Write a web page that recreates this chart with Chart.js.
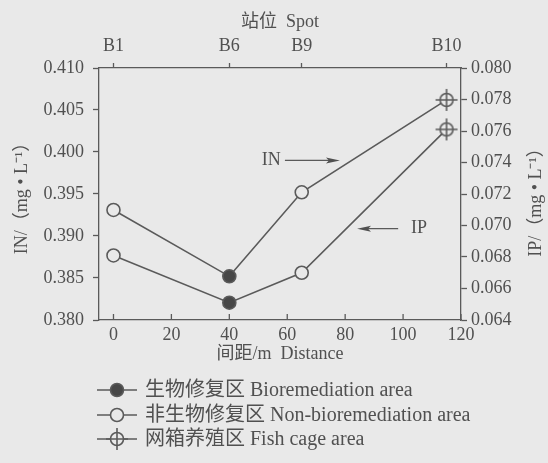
<!DOCTYPE html>
<html>
<head>
<meta charset="utf-8">
<script src="https://cdn.jsdelivr.net/npm/chart.js@4.4.1/dist/chart.umd.min.js"></script>
<style>
  body { margin: 0; background: #e9e9e9; }
  #wrap { width: 548px; height: 463px; }
</style>
</head>
<body>
<div id="wrap"><canvas id="chart" width="548" height="463"></canvas></div>
<script>
// datos
const distancias = [0, 40, 65, 115];
const estaciones = ["B1", "B6", "B9", "B10"];
const valoresIN = [0.3931, 0.3852, 0.3952, 0.4062];
const valoresIP = [0.0681, 0.0651, 0.0670, 0.0761];
const zonaPunto = ["non", "bio", "non", "cage"];

const ticksDist = [0, 20, 40, 60, 80, 100, 120];
const ticksIN = [0.380, 0.385, 0.390, 0.395, 0.400, 0.405, 0.410];
const ticksIP = [0.064, 0.066, 0.068, 0.070, 0.072, 0.074, 0.076, 0.078, 0.080];

const leyenda = [
    { zona: "bio", texto: "生物修复区 Bioremediation area" },
    { zona: "non", texto: "非生物修复区 Non-bioremediation area" },
    { zona: "cage", texto: "网箱养殖区 Fish cage area" }
];

const FONDO = "#e9e9e9";
const TINTA = "#505050";
const LINEA = "#5a5a5a";
const FUENTE = "'Liberation Serif', 'Noto Sans CJK SC', serif";

// marcador con cruz (zona de jaulas)
function marcadorJaula() {
    const c = document.createElement("canvas");
    c.width = 26; c.height = 26;
    const g = c.getContext("2d");
    g.strokeStyle = LINEA;
    g.lineWidth = 1.6;
    g.fillStyle = FONDO;
    g.beginPath(); g.arc(13, 13, 6.5, 0, Math.PI * 2); g.fill(); g.stroke();
    g.beginPath();
    g.moveTo(13, 2); g.lineTo(13, 24);
    g.moveTo(2, 13); g.lineTo(24, 13);
    g.stroke();
    return c;
}
const imgJaula = marcadorJaula();

function estilo(z) { return z === "cage" ? imgJaula : "circle"; }
function relleno(z) { return z === "bio" ? "#474747" : FONDO; }

function serie(label, valores, eje) {
    return {
        label: label,
        data: distancias.map((d, i) => ({ x: d, y: valores[i] })),
        yAxisID: eje,
        borderColor: LINEA,
        borderWidth: 1.6,
        pointStyle: zonaPunto.map(estilo),
        pointBackgroundColor: zonaPunto.map(relleno),
        pointBorderColor: LINEA,
        pointBorderWidth: 1.6,
        pointRadius: 6.5,
        tension: 0
    };
}

function fijarTicks(lista) {
    return function(scale) { scale.ticks = lista.map(v => ({ value: v })); };
}

// ticks hacia dentro en el eje inferior, flechas, titulo derecho y leyenda
const extras = {
    id: "extras",
    afterDraw(chart) {
        const ctx = chart.ctx;
        const x = chart.scales.x, y = chart.scales.y, y2 = chart.scales.y2;
        const area = chart.chartArea;
        ctx.save();
        ctx.strokeStyle = LINEA;
        ctx.fillStyle = TINTA;
        ctx.lineWidth = 1.3;
        ticksDist.forEach(v => {
            const px = x.getPixelForValue(v);
            ctx.beginPath(); ctx.moveTo(px, area.bottom); ctx.lineTo(px, area.bottom - 6); ctx.stroke();
        });

        ctx.font = "18px " + FUENTE;
        ctx.textBaseline = "middle";
        ctx.textAlign = "center";

        // IN ->
        let py = y.getPixelForValue(0.3990);
        ctx.fillText("IN", x.getPixelForValue(54.5), py);
        flecha(ctx, x.getPixelForValue(59.2), x.getPixelForValue(78.2), py);
        // <- IP
        py = y2.getPixelForValue(0.0698);
        ctx.fillText("IP", x.getPixelForValue(105.5), py);
        flecha(ctx, x.getPixelForValue(98.3), x.getPixelForValue(84.1), py);

        // titulo eje derecho (leido de abajo hacia arriba)
        ctx.save();
        ctx.translate(536, (area.top + area.bottom) / 2 + 4);
        ctx.rotate(-Math.PI / 2);
        ctx.fillText("IP/（mg • L⁻¹）", 0, 0);
        ctx.restore();

        // leyenda
        const filas = [390, 415, 439];
        ctx.textAlign = "left";
        ctx.font = "20px " + FUENTE;
        leyenda.forEach((it, i) => {
            const fy = filas[i];
            ctx.strokeStyle = LINEA;
            ctx.lineWidth = 1.6;
            ctx.beginPath(); ctx.moveTo(97, fy); ctx.lineTo(137, fy); ctx.stroke();
            if (it.zona === "cage") {
                ctx.drawImage(imgJaula, 117 - 13, fy - 13);
            } else {
                ctx.beginPath(); ctx.arc(117, fy, 6.5, 0, Math.PI * 2);
                ctx.fillStyle = relleno(it.zona); ctx.fill(); ctx.stroke();
            }
            ctx.fillStyle = TINTA;
            ctx.fillText(it.texto, 145, fy + 1);
        });
        ctx.restore();
    }
};

function flecha(ctx, x0, x1, py) {
    const dir = Math.sign(x1 - x0);
    ctx.lineWidth = 1.2;
    ctx.beginPath(); ctx.moveTo(x0, py); ctx.lineTo(x1 - dir * 8, py); ctx.stroke();
    ctx.beginPath();
    ctx.moveTo(x1, py);
    ctx.lineTo(x1 - dir * 14, py - 3);
    ctx.lineTo(x1 - dir * 11, py);
    ctx.lineTo(x1 - dir * 14, py + 3);
    ctx.closePath();
    ctx.fill();
}

Chart.defaults.font.family = FUENTE;
Chart.defaults.font.size = 18;
Chart.defaults.color = TINTA;

new Chart(document.getElementById("chart"), {
    type: "line",
    data: {
        datasets: [serie("IN", valoresIN, "y"), serie("IP", valoresIP, "y2")]
    },
    options: {
        responsive: false,
        animation: false,
        layout: { padding: { left: 0, right: 0, top: 0, bottom: 93 } },
        plugins: { legend: { display: false }, tooltip: { enabled: false } },
        scales: {
            x: {
                type: "linear", position: "bottom", min: -5, max: 120,
                afterBuildTicks: fijarTicks(ticksDist),
                afterFit: s => { s.height = 50; },
                border: { color: LINEA, width: 1.3 },
                grid: { drawOnChartArea: false, drawTicks: false },
                ticks: { padding: 4 },
                title: { display: true, text: "间距/m  Distance", padding: { top: 0, bottom: 5 } }
            },
            x2: {
                type: "linear", position: "top", min: -5, max: 120,
                afterBuildTicks: fijarTicks(distancias),
                afterFit: s => { s.height = 68; },
                border: { color: LINEA, width: 1.3 },
                grid: { drawOnChartArea: false, tickLength: 5, color: LINEA, tickWidth: 1.3 },
                ticks: { padding: 6, callback: (v, i) => estaciones[i] },
                title: { display: true, text: "站位  Spot", padding: { top: 11, bottom: 0 } }
            },
            y: {
                type: "linear", position: "left", min: 0.380, max: 0.410,
                afterBuildTicks: fijarTicks(ticksIN),
                afterFit: s => { s.width = 99; },
                border: { color: LINEA, width: 1.3 },
                grid: { drawOnChartArea: false, tickLength: 6, color: LINEA, tickWidth: 1.3 },
                ticks: { padding: 9, callback: v => v.toFixed(3) },
                title: { display: true, text: "IN/（mg • L⁻¹）", padding: { top: 11, bottom: 0 } }
            },
            y2: {
                type: "linear", position: "right", min: 0.064, max: 0.080,
                afterBuildTicks: fijarTicks(ticksIP),
                afterFit: s => { s.width = 87; },
                border: { color: LINEA, width: 1.3 },
                grid: { drawOnChartArea: false, tickLength: 6, color: LINEA, tickWidth: 1.3 },
                ticks: { padding: 4, callback: v => v.toFixed(3) }
            }
        }
    },
    plugins: [extras]
});
</script>
</body>
</html>
